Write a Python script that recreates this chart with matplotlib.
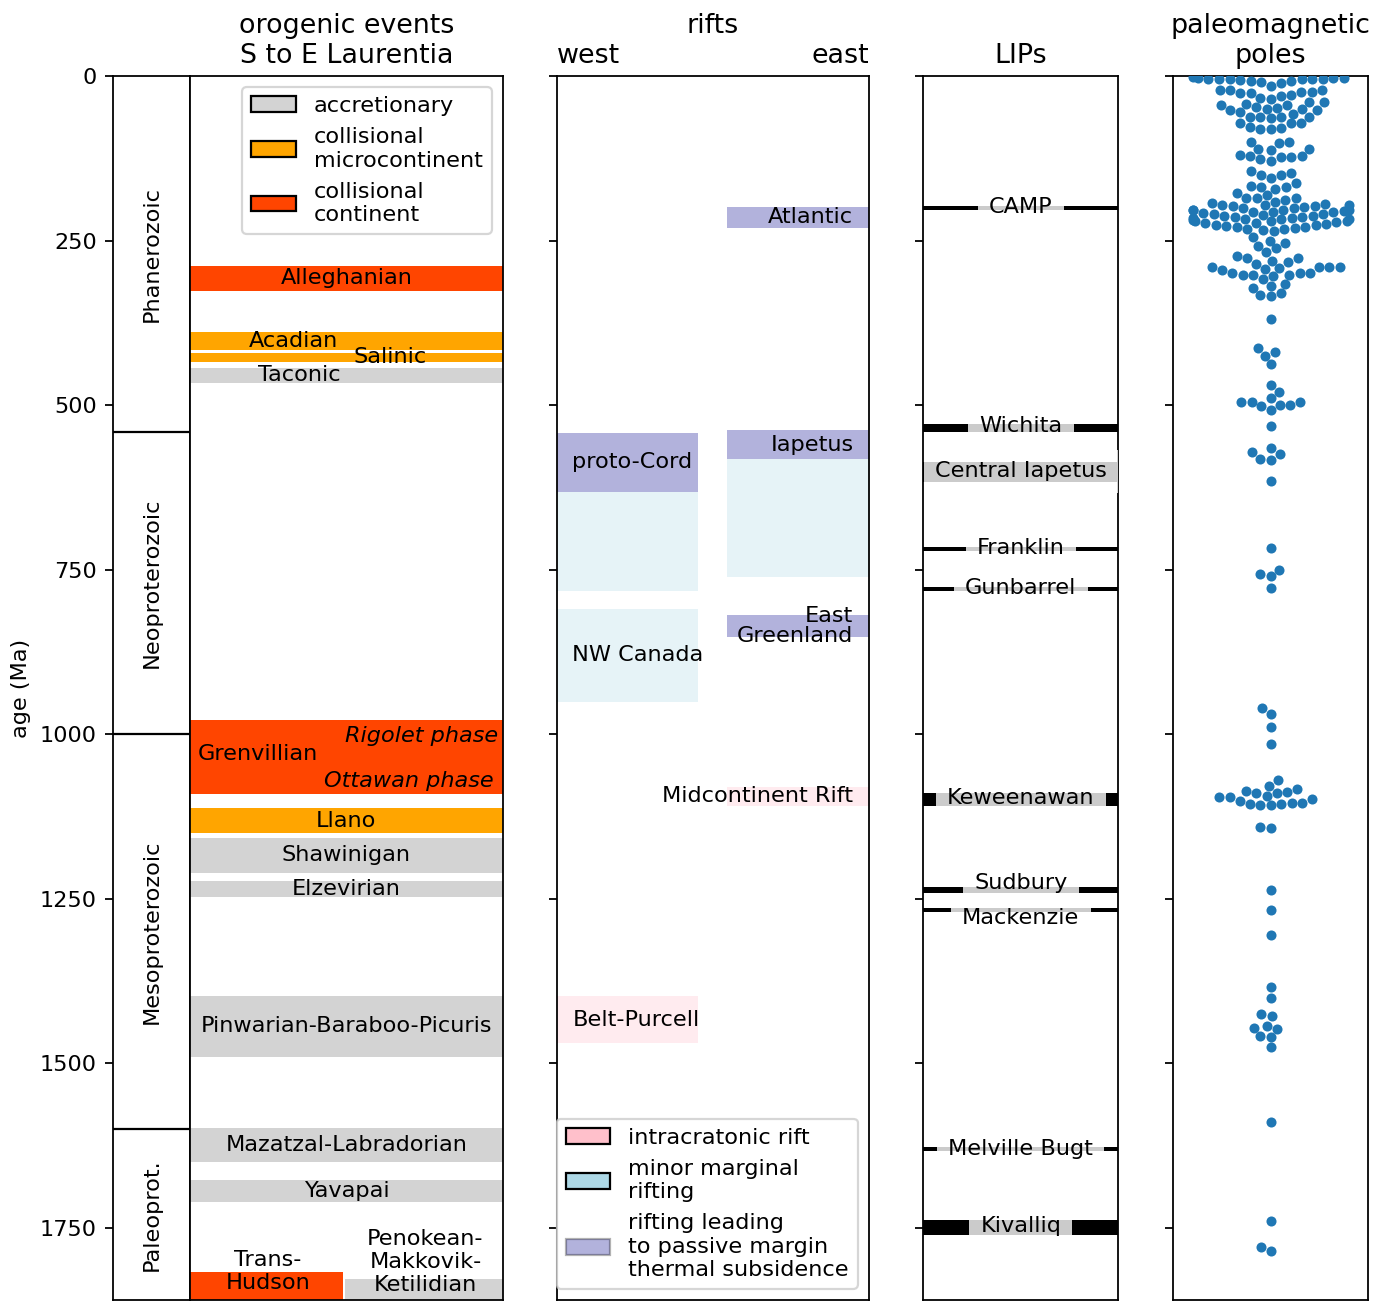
import numpy as np
import matplotlib
matplotlib.use("Agg")
import matplotlib.pyplot as plt
from matplotlib.patches import Patch
import seaborn as sns

# --- data (ages in Ma) ---
era_names = ["Phanerozoic", "Neoproterozoic", "Mesoproterozoic", "Paleoprot."]
era_bounds = [0, 541, 1000, 1600, 1860]

orogen_names = ["Alleghanian", "Acadian", "Salinic", "Taconic", "Grenvillian", "Llano",
                "Shawinigan", "Elzevirian", "Pinwarian-Baraboo-Picuris",
                "Mazatzal-Labradorian", "Yavapai", "Trans-\nHudson",
                "Penokean-\nMakkovik-\nKetilidian"]
orogen_start = [288, 389, 421, 444, 978, 1113, 1158, 1223, 1398, 1598, 1678, 1818, 1828]
orogen_end = [326, 416, 434, 466, 1091, 1151, 1211, 1247, 1490, 1651, 1711, 1870, 1870]
orogen_kind = ["continent", "micro", "micro", "accretionary", "continent", "micro",
               "accretionary", "accretionary", "accretionary", "accretionary",
               "accretionary", "continent", "accretionary"]

rift_names = ["Atlantic", "Iapetus", "", "East\nGreenland", "Midcontinent Rift",
              "proto-Cord", "", "NW Canada", "Belt-Purcell"]
rift_side = ["east", "east", "east", "east", "east", "west", "west", "west", "west"]
rift_start = [199, 538, 582, 819, 1080, 542, 632, 810, 1398]
rift_end = [231, 582, 761, 852, 1109, 632, 782, 951, 1470]
rift_kind = ["passive", "passive", "minor", "passive", "intra", "passive", "minor",
             "minor", "intra"]

lip_names = ["CAMP", "Wichita", "Central Iapetus", "Franklin", "Gunbarrel", "Keweenawan",
             "Sudbury", "Mackenzie", "Melville Bugt", "Kivalliq"]
lip_start = [198, 529, 586, 716, 777, 1089, 1233, 1264, 1627, 1739]
lip_end = [204, 541, 617, 722, 783, 1110, 1241, 1270, 1634, 1761]
lip_label_age = [199, 532, 601, 717, 778, 1097, 1226, 1279, 1630, 1748]

pole_ages = [
    2, 3, 3, 3, 4, 4, 4, 4, 5, 5, 6, 7, 7, 9, 10,
    15, 21, 22, 22, 24, 24, 26, 26, 29, 30, 33, 35, 39, 40, 42, 44, 44, 47, 48, 50, 50, 51, 51,
    55, 57, 62, 62, 63, 63, 64, 71, 72, 72, 78, 79, 81, 81,
    100, 100, 102, 111, 111, 112, 120, 122, 122, 123, 123, 126, 129,
    144, 148, 150, 150, 155, 163, 167, 168, 168, 172,
    178, 181, 185, 186, 186, 188, 191,
    193, 194, 196, 196, 196, 197, 198, 199, 200, 201,
    203, 203, 204, 204, 205, 206, 206, 207, 208, 210, 210, 211, 212, 213, 214, 215,
    216, 216, 217, 218, 218, 219, 220, 220, 221, 222, 223, 224, 225,
    226, 227, 228, 229, 230, 231, 232, 233, 234, 236,
    245, 250, 254, 258, 262, 268, 274, 277, 277, 281, 283, 285,
    290, 290, 291, 291, 292, 293, 295, 300, 300, 300, 302, 302, 303, 304,
    309, 316, 319, 322, 330, 333, 335, 370,
    414, 420, 425, 438, 469, 480, 490, 495, 495, 495, 500, 500, 502, 508, 532,
    565, 572, 575, 582, 583, 615, 718, 750, 757, 760, 778,
    960, 969, 989, 1015,
    1070, 1079, 1084, 1086, 1088, 1090, 1090, 1094, 1095, 1095, 1098, 1101, 1104, 1104,
    1106, 1107, 1108, 1108, 1141, 1143,
    1237, 1267, 1305, 1384, 1401, 1425, 1429, 1443, 1447, 1448, 1459, 1460, 1476,
    1589, 1740, 1779, 1785,
]

orogen_colors = {"accretionary": "lightgray", "micro": "orange", "continent": "orangered"}
rift_colors = {"intra": "pink", "minor": "lightblue", "passive": "darkblue"}

W, H = 1389, 1301
DPI = 161
fig = plt.figure(figsize=(W / DPI, H / DPI), dpi=DPI)


def ax_at(x0, x1):
    return fig.add_axes([x0 / W, (H - 1300) / H, (x1 - x0) / W, (1300 - 76) / H])


ax_era = ax_at(112.7, 190)
ax_oro = ax_at(190, 502.7)
ax_rift = ax_at(556.7, 869)
ax_lip = ax_at(923.3, 1118.3)
ax_pole = ax_at(1173.3, 1368.3)

yticks = np.arange(0, 1751, 250)
for ax in [ax_era, ax_oro, ax_rift, ax_lip, ax_pole]:
    ax.set_xlim(0, 1)
    ax.set_ylim(1860, 0)

# eras
for b in era_bounds[1:-1]:
    ax_era.axhline(b, color="k", lw=1)
for i, name in enumerate(era_names):
    ax_era.text(0.5, (era_bounds[i] + era_bounds[i + 1]) / 2, name, rotation=90,
                ha="center", va="center", fontsize=10)
ax_era.set_xticks([])
ax_era.set_yticks(yticks)
ax_era.set_ylabel("age (Ma)")

# orogens
oro_x = {"Trans-\nHudson": (0, 0.49), "Penokean-\nMakkovik-\nKetilidian": (0.497, 1)}
oro_text = {"Acadian": (0.33, 402, "center"), "Salinic": (0.64, 427, "center"),
            "Taconic": (0.35, 455, "center"), "Grenvillian": (0.026, 1031, "left"),
            "Trans-\nHudson": (0.25, 1817, "center"),
            "Penokean-\nMakkovik-\nKetilidian": (0.753, 1802, "center")}
for name, s, e, k in zip(orogen_names, orogen_start, orogen_end, orogen_kind):
    x0, x1 = oro_x.get(name, (0, 1))
    ax_oro.axhspan(s, e, x0, x1, color=orogen_colors[k], lw=0)
    tx, ty, ha = oro_text.get(name, (0.5, (s + e) / 2, "center"))
    ax_oro.text(tx, ty, name, ha=ha, va="center", fontsize=10)
ax_oro.text(0.985, 1003, "Rigolet phase", ha="right", va="center", style="italic")
ax_oro.text(0.97, 1072, "Ottawan phase", ha="right", va="center", style="italic")
ax_oro.set_xticks([])
ax_oro.set_yticks([])
ax_oro.set_title("orogenic events\nS to E Laurentia", fontsize=12)
ax_oro.legend(handles=[Patch(facecolor="lightgray", edgecolor="k", label="accretionary"),
                       Patch(facecolor="orange", edgecolor="k",
                             label="collisional\nmicrocontinent"),
                       Patch(facecolor="orangered", edgecolor="k",
                             label="collisional\ncontinent")],
              loc="upper right", fontsize=10)

# rifts
for name, side, s, e, k in zip(rift_names, rift_side, rift_start, rift_end, rift_kind):
    if side == "west":
        ax_rift.axhspan(s, e, 0, 0.452, color=rift_colors[k], alpha=0.3, lw=0)
        if name:
            ax_rift.text(0.05, (s + e) / 2, name, ha="left", va="center", fontsize=10)
    else:
        ax_rift.axhspan(s, e, 0.545, 1, color=rift_colors[k], alpha=0.3, lw=0)
        if name:
            ax_rift.text(0.95, (s + e) / 2, name, ha="right", va="center", fontsize=10,
                         linespacing=1.0)
ax_rift.set_xticks([])
ax_rift.set_yticks(yticks)
ax_rift.set_yticklabels([])
ax_rift.set_title("rifts\n", fontsize=12)
ax_rift.set_title("west", loc="left", fontsize=12)
ax_rift.set_title("east", loc="right", fontsize=12)
ax_rift.legend(handles=[Patch(facecolor="pink", edgecolor="k", label="intracratonic rift"),
                        Patch(facecolor="lightblue", edgecolor="k",
                              label="minor marginal\nrifting"),
                        Patch(facecolor="darkblue", edgecolor="k", alpha=0.3,
                              label="rifting leading\nto passive margin\nthermal subsidence")],
               loc="lower right", fontsize=10)

# LIPs
for name, s, e, ya in zip(lip_names, lip_start, lip_end, lip_label_age):
    ax_lip.axhspan(s, e, color="k", lw=0)
    ax_lip.text(0.5, ya, name, ha="center", va="center", fontsize=10,
                bbox=dict(boxstyle="square,pad=0.5", facecolor="white", alpha=0.8,
                          edgecolor="none"))
ax_lip.set_xticks([])
ax_lip.set_yticks(yticks)
ax_lip.set_yticklabels([])
ax_lip.set_title("LIPs", fontsize=12)

# paleomagnetic poles
sns.swarmplot(y=pole_ages, ax=ax_pole, size=4.5)
ax_pole.set_xlim(-0.5, 0.5)
ax_pole.set_ylim(1860, 0)
ax_pole.set_xticks([])
ax_pole.set_yticks(yticks)
ax_pole.set_yticklabels([])
ax_pole.set_ylabel("")
ax_pole.set_title("paleomagnetic\npoles", fontsize=12)

fig.savefig("out.png", dpi=DPI)
